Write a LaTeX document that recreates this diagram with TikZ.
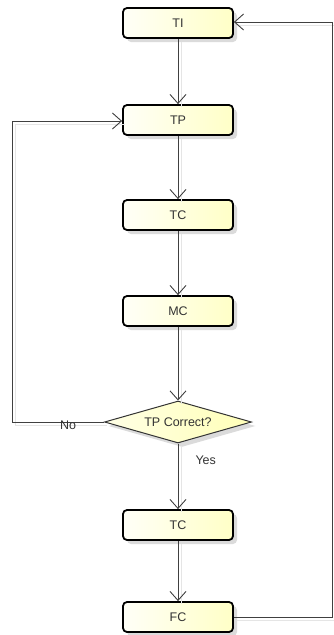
\documentclass[tikz,border=0pt]{standalone}
\usepackage{fontspec}
\setmainfont{Liberation Sans}
\usetikzlibrary{arrows.meta,shapes.geometric,shadows}
\begin{document}
\begin{tikzpicture}[x=1pt,y=-1pt,
  every node/.style={font=\fontsize{12.5}{14}\selectfont, text=black!80},
  box/.style={draw=black, line width=1.8pt, rounded corners=4pt,
    minimum width=110pt, minimum height=30pt, inner sep=0pt,
    left color=yellow!3, right color=yellow!22,
    drop shadow={shadow xshift=4pt, shadow yshift=-4pt, fill=black!14, opacity=1}},
  dec/.style={draw=black!80, line width=1pt, shape=diamond, aspect=3.5,
    minimum width=147pt, minimum height=42pt, inner sep=0pt,
    left color=yellow!10, right color=yellow!28,
    drop shadow={shadow xshift=4pt, shadow yshift=-4pt, fill=black!14, opacity=1}},
  conn/.style={draw=black!75, line width=0.9pt,
    -{Straight Barb[length=9pt,width=16pt,line width=0.9pt]},
    preaction={draw=black!10, line width=1pt, -, transform canvas={shift={(3pt,-3pt)}}}}]
\useasboundingbox (0,0) rectangle (334,635);
\node[box] (ti) at (178,23) {TI};
\node[box] (tp) at (178,120) {TP};
\node[box] (tc1) at (178,215) {TC};
\node[box] (mc) at (178,311) {MC};
\node[dec] (dq) at (178,422) {TP Correct?};
\node[box] (tc2) at (178,525) {TC};
\node[box] (fc) at (178,617) {FC};
\coordinate (l1) at (12,422);
\coordinate (l2) at (12,121);
\coordinate (r1) at (332,617);
\coordinate (r2) at (332,22);
\draw[conn] (ti) -- (tp);
\draw[conn] (tp) -- (tc1);
\draw[conn] (tc1) -- (mc);
\draw[conn] (mc) -- (dq);
\draw[conn] (dq) -- (tc2);
\draw[conn] (tc2) -- (fc);
\draw[conn] (dq.west) -- (l1) -- (l2) -- (tp.west |- l2);
\draw[conn] (fc.east) -- (r1) -- (r2) -- (ti.east |- r2);
\node[anchor=north] at (68,417) {No};
\node[anchor=west] at (192,460) {Yes};
\end{tikzpicture}
\end{document}
